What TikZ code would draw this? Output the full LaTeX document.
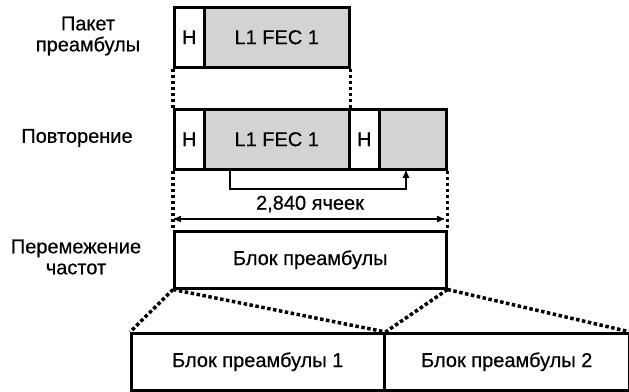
\documentclass[tikz,border=0pt]{standalone}
\usepackage{fontspec}
\setmainfont{Liberation Sans}[FakeBold=0.5]
\usepackage{tikz}
\usetikzlibrary{arrows}
\definecolor{fecgray}{RGB}{211,211,211}

\begin{document}
\begin{tikzpicture}[x=1pt,y=-1pt]
\tikzset{cell/.style = {draw,line width=2.5pt,anchor=north west,inner sep=0pt,
  minimum height=60pt,font=\fontsize{20}{21}\selectfont}}
\tikzset{fec/.style = {cell,fill=fecgray}}
\tikzset{blk/.style = {cell,minimum height=57pt}}
\tikzset{lbl/.style = {align=center,font=\fontsize{20}{21}\selectfont}}
\tikzset{dots/.style = {line width=3.5pt,dash pattern=on 3.5pt off 2.5pt}}
\tikzset{link/.style = {line width=2pt,-latex}}
\tikzset{span/.style = {line width=1.5pt,<->,>=stealth'}}
\useasboundingbox (0,0) rectangle (629,391);
% labels
\node[lbl] (l1) at (88,36) {Пакет\\преамбулы};
\node[lbl] (l2) at (77,138) {Повторение};
\node[lbl] (l3) at (76,257) {Перемежение\\частот};
% boxes
\node[cell,minimum width=30pt] (h1) at (173,6) {H};
\node[fec,minimum width=145pt] (f1) at (203,6) {L1 FEC 1};
\node[cell,minimum width=30pt] (h2) at (173,108) {H};
\node[fec,minimum width=145pt] (f2) at (203,108) {L1 FEC 1};
\node[cell,minimum width=30pt] (h3) at (348,108) {H};
\node[fec,minimum width=67pt] (g3) at (378,108) {};
\node[blk,minimum width=272pt] (bp) at (173,230) {Блок преамбулы};
\node[blk,minimum width=253pt] (bp1) at (130,332) {Блок преамбулы 1};
\node[blk,minimum width=245pt] (bp2) at (383,332) {Блок преамбулы 2};
% dotted guides
\draw[dots] (h1.south west) -- (h2.north west);
\draw[dots] (f1.south east) -- (f2.north east);
\draw[dots] (h2.south west) -- (bp.north west);
\draw[dots] (g3.south east) -- (bp.north east);
\draw[dots] (bp.south west) -- (bp1.north west);
\draw[dots] (bp.south west) -- (bp1.north east);
\draw[dots] (bp.south east) -- (bp1.north east);
\draw[dots] (bp.south east) -- (bp2.north east);
% repetition arrow
\coordinate (a) at (230,168);
\coordinate (b) at (406,169);
\draw[link] (a) -- ++(0,21) -| (b);
% span
\coordinate (sl) at (174,219);
\coordinate (sr) at (444,219);
\draw[span] (sl) -- (sr);
\node[lbl] (cells) at (310,204) {2,840 ячеек};
\end{tikzpicture}
\end{document}
